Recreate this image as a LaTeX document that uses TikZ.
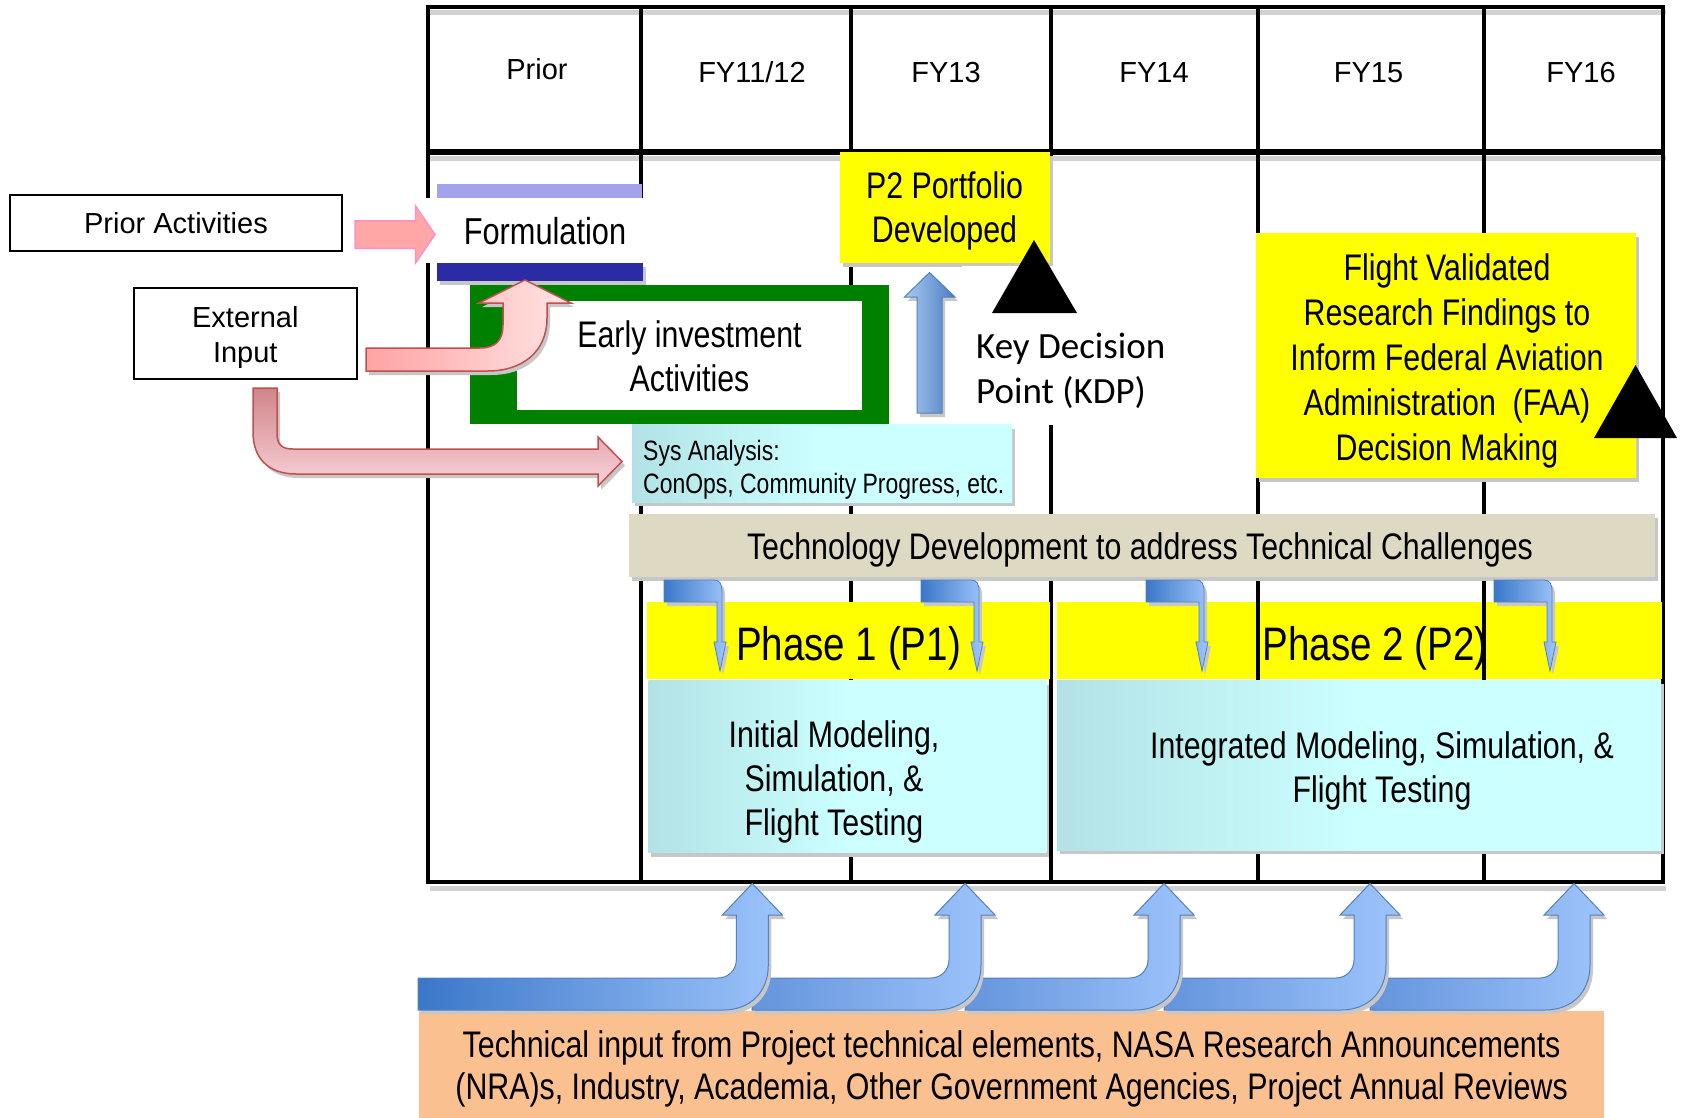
\documentclass[tikz,border=0pt]{standalone}
\usepackage{fontspec}
\setmainfont{Liberation Sans}
\newfontfamily\narrowfont{Liberation Sans}[FakeStretch=0.82]
\newfontfamily\calfont{Carlito}
\usetikzlibrary{shadows}
\definecolor{yel}{HTML}{FFFF00}
\definecolor{grn}{HTML}{008000}
\definecolor{purL}{HTML}{A3A3EC}
\definecolor{purD}{HTML}{2B2BA6}
\definecolor{tanbar}{HTML}{DDD9C3}
\definecolor{cyL}{HTML}{B2E2E6}
\definecolor{cyR}{HTML}{CCFFFF}
\definecolor{orng}{HTML}{FAC090}
\definecolor{pinkB}{HTML}{C0504D}
\definecolor{pinkA}{HTML}{FFA7A7}
\definecolor{pinkE}{HTML}{FF8FC8}
\definecolor{pinkL}{HTML}{FFA3A3}
\definecolor{pinkR}{HTML}{FFE4E4}
\definecolor{pinkT}{HTML}{CF8589}
\definecolor{pinkBot}{HTML}{FAD2DA}
\definecolor{bluB}{HTML}{4F81BD}
\definecolor{bluD}{HTML}{3A77C8}
\definecolor{bluM}{HTML}{6494DC}
\definecolor{bluL}{HTML}{9EC4FB}
\definecolor{kdpL}{HTML}{AACAF0}
\definecolor{kdpR}{HTML}{4A7DC4}
\begin{document}
\begin{tikzpicture}[x=1pt,y=-1pt,
  shd/.style={drop shadow={shadow xshift=3pt,shadow yshift=-4pt,fill=black!22,opacity=1}},
  txt/.style={inner sep=0pt,align=center},
  hdr/.style={txt,font=\fontsize{29}{35}\selectfont},
  nar/.style={txt,font=\narrowfont\fontsize{37}{44}\selectfont},
  gridline/.style={line width=4pt},
  gridshadow/.style={line width=5pt,black!18},
  cyanbox/.style={left color=cyL,right color=cyR,middle color=cyR},
  bluearrow/.style={draw=bluB,line width=1pt},
  pinkarrow/.style={draw=pinkB,line width=1.5pt}
]
\useasboundingbox (0,0) rectangle (1682,1118);
\fill[white] (0,0) rectangle (1682,1118);

% ---------- grid ----------
\draw[gridshadow] (430,13) -- (1666,13);
\draw[gridshadow] (430,159) -- (1666,159);
\draw[gridshadow] (430,888) -- (1666,888);
\foreach \x in {428,641,851,1051,1257.5,1483.5,1663}
  \draw[gridline] (\x,7) -- (\x,882);
\draw[gridline] (426,7) -- (1665,7);
\draw[line width=6pt] (426,152) -- (1665,152);
\draw[gridline] (426,882) -- (1665,882);

\node[hdr] (hprior) at (537,72.4) {\strut Prior};
\node[hdr] (hfy12) at (752,75.4) {\strut FY11/12};
\node[hdr] (hfy13) at (946,75.4) {\strut FY13};
\node[hdr] (hfy14) at (1154,75.4) {\strut FY14};
\node[hdr] (hfy15) at (1368.5,75.4) {\strut FY15};
\node[hdr] (hfy16) at (1581,75.4) {\strut FY16};

% ---------- Formulation ----------
\fill[purL] (437,184) rectangle (641.5,197.7);
\fill[white] (426,197.7) rectangle (645,263.3);
\path[shd,fill=purD] (437,263.3) rectangle (643,281);
\node[txt,font=\narrowfont\fontsize{37.5}{44}\selectfont] (form) at (545,235.5) {\strut Formulation};

% ---------- left boxes ----------
\draw[line width=2pt] (9.5,195.5) rectangle (342,250.7);
\node[hdr] (prior) at (176,226.9) {\strut Prior Activities};
\draw[line width=2pt] (133.5,287.7) rectangle (356.5,379);
\node[hdr] (ext) at (245.3,337.6) {\strut External\\\strut Input};

% ---------- early investment ----------
\fill[grn] (470,285.3) rectangle (889.3,424);
\fill[white] (516.7,301.4) rectangle (862.4,410);
\node[nar] (early) at (689.5,360.2) {\strut Early investment\\\strut Activities};

% ---------- P2 portfolio ----------
\path[shd,fill=yel] (840,152) rectangle (1050,263);
\node[nar] (p2port) at (944.5,211.7) {\strut P2 Portfolio\\\strut Developed};

% ---------- KDP ----------
\fill[white] (962,266) rectangle (1170,425);
\node[txt,align=left,anchor=west,font=\calfont\fontsize{37}{45}\selectfont] (kdp) at (976,371.8) {\strut Key Decision\\\strut Point (KDP)};

% ---------- Flight validated ----------
\path[shd,fill=yel] (1256,233) rectangle (1636,478);
\node[txt,font=\narrowfont\fontsize{37}{45}\selectfont] (flight) at (1447,361.2)
 {\strut Flight Validated\\\strut Research Findings to\\\strut Inform Federal Aviation\\\strut Administration\ \ (FAA)\\\strut Decision Making};

% ---------- Sys analysis ----------
\path[shd,cyanbox] (632,424.5) rectangle (1012,502);
\node[txt,align=left,anchor=west,font=\narrowfont\fontsize{28}{33}\selectfont] (sys) at (643,470.4)
 {\strut Sys Analysis:\\\strut ConOps, Community Progress, etc.};

% ---------- Technology development ----------
\path[shd,fill=tanbar] (628.6,513.8) rectangle (1655,577);
\node[nar] (tech) at (1140,550.4) {\strut Technology Development to address Technical Challenges};

% ---------- Phases ----------
\fill[yel] (647,601.7) rectangle (1050,679.3);
\fill[yel] (1057,601.7) rectangle (1662,679.3);
\node[txt,font=\narrowfont\fontsize{47}{56}\selectfont] (ph1) at (848.5,648.9) {\strut Phase 1 (P1)};
\node[txt,font=\narrowfont\fontsize{47}{56}\selectfont] (ph2) at (1375,648.9) {\strut Phase 2 (P2)};
\draw[gridline] (1257.5,601.7) -- (1257.5,679.3);
\draw[gridline] (1483.5,601.7) -- (1483.5,679.3);
\path[shd,cyanbox] (648.4,680.7) rectangle (1046.4,852.7);
\path[shd,cyanbox] (1057,680) rectangle (1661,850);
\node[nar] (init) at (834,782.2) {\strut Initial Modeling,\\\strut Simulation, \&\\\strut Flight Testing};
\node[nar] (integ) at (1382,771.9) {\strut Integrated Modeling, Simulation, \&\\\strut Flight Testing};

% small bent arrows from technology bar
\foreach \x in {664,921,1146,1494}{
  \path[shd,bluearrow,line width=0.8pt,left color=bluD,right color=bluL]
    (\x,580) -- ({\x+50},580) .. controls ({\x+56},580) and ({\x+58},584) .. ({\x+58},592)
    -- ({\x+58},642) -- ({\x+62},642) -- ({\x+56},671) -- ({\x+50},642) -- ({\x+53},642)
    -- ({\x+53},602) -- (\x,602) -- cycle;
}

% ---------- pink arrows ----------
\path[fill=pinkA,draw=pinkE,line width=1.5pt]
  (355,221) -- (415.5,221) -- (415.5,206) -- (435,234.5) -- (415.5,263) -- (415.5,248.5) -- (355,248.5) -- cycle;
\path[shd,pinkarrow,left color=pinkL,right color=pinkR]
  (366,348) -- (480,348) .. controls (496,348) and (503,340) .. (503,325) -- (503,303) -- (479,303)
  -- (525,280) -- (571,303) -- (547,303) -- (547,318) .. controls (547,352) and (522,371) .. (488,371)
  -- (366,371) -- cycle;
\path[shd,pinkarrow,top color=pinkT,bottom color=pinkBot]
  (253,388) -- (277,388) -- (277,433) .. controls (277,444) and (281,449) .. (293,449) -- (598,449)
  -- (598,437) -- (622,461.5) -- (598,486) -- (598,474) -- (296,474) .. controls (268,474) and (253,458) .. (253,432)
  -- cycle;

% ---------- KDP arrow and triangles ----------
\path[shd,bluearrow,left color=kdpL,right color=kdpR]
  (917,413) -- (917,297) -- (904.5,297) -- (929.5,272.5) -- (955,297) -- (942,297) -- (942,413) -- cycle;
\fill[black] (992,313) -- (1034,240) -- (1077,313) -- cycle;
\fill[black] (1594,438) -- (1635.5,365) -- (1677,438) -- cycle;

% ---------- bottom ----------
\fill[orng] (419,1010.5) rectangle (1604,1118);
\node[nar,font=\narrowfont\fontsize{37}{42}\selectfont] (bottom) at (1011.6,1069.8)
 {\strut Technical input from Project technical elements, NASA Research Announcements\\\strut (NRA)s, Industry, Academia, Other Government Agencies, Project Annual Reviews};

\foreach \xs/\c/\lc in {1370/1574/bluM,1164/1370/bluM,965/1164/bluM,752/965/bluM,418/752.3/bluD}{
  \path[shd,draw={rgb,255:red,85;green,128;blue,190},line width=1pt,left color=\lc,right color=bluL]
    (\xs,978) -- ({\c-34},978) .. controls ({\c-24},978) and ({\c-16},970) .. ({\c-16},960)
    -- ({\c-16},915) -- ({\c-30},915) -- (\c,883.5) -- ({\c+30},915) -- ({\c+16},915)
    -- ({\c+16},965) .. controls ({\c+16},992) and ({\c-2},1010) .. ({\c-29},1010)
    -- (\xs,1010) -- cycle;
}
\end{tikzpicture}
\end{document}
